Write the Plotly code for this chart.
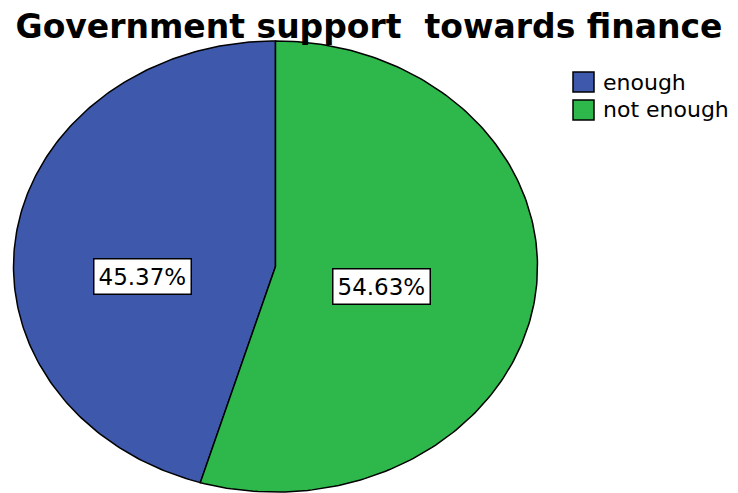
import numpy as np
import plotly.graph_objects as go

categories = ["enough", "not enough"]
values = [45.37, 54.63]
colors = ["#3E58AB", "#2EB84C"]
title_text = "Government support  towards finance"

W, H = 738, 493
cx_px, cy_px, rx_px, ry_px = 275.5, 267.0, 262.0, 226.0
# axis ranges so a unit circle maps onto the ellipse
xr = [-cx_px / rx_px, (W - cx_px) / rx_px]
yr = [-(H - cy_px) / ry_px - 0.004, cy_px / ry_px]

fig = go.Figure()
total = sum(values)
start = 90.0  # 12 o'clock; first slice counter-clockwise
b = start
for i, v in enumerate(values):
    sweep = v / total * 360.0
    th = np.linspace(b, b + sweep, 200)
    b += sweep
    t = np.radians(th)
    xs = np.concatenate([[0], np.cos(t), [0]])
    ys = np.concatenate([[0], np.sin(t), [0]])
    fig.add_trace(go.Scatter(x=xs, y=ys, mode="lines", fill="toself", name=categories[i],
                             fillcolor=colors[i], line=dict(color="black", width=1.5),
                             showlegend=False, hoverinfo="skip"))

# manual legend (square swatches + text), placed in paper pixels
leg_x, leg_y, sw, sh, row = 573, 72, 21, 20, 28
for k, (name, c) in enumerate(zip(categories, colors)):
    y0 = leg_y + k * row
    fig.add_shape(type="rect", xref="paper", yref="paper",
                  x0=leg_x / W, x1=(leg_x + sw) / W,
                  y0=1 - (y0 + sh) / H, y1=1 - y0 / H,
                  fillcolor=c, line=dict(color="black", width=1.5))
    fig.add_annotation(xref="paper", yref="paper", x=(leg_x + sw + 7) / W,
                       y=1 - (y0 + sh / 2) / H, xanchor="left", yanchor="middle",
                       text=name, showarrow=False,
                       font=dict(family="DejaVu Sans", size=22, color="black"))

label_pos = [(-0.506, -0.044), (0.403, -0.088)]
for (lx, ly), v in zip(label_pos, values):
    fig.add_annotation(x=lx, y=ly, text=f"{v:.2f}%", showarrow=False,
                       font=dict(family="DejaVu Sans", size=23, color="black"),
                       bgcolor="white", bordercolor="black", borderwidth=1.5, borderpad=4)

fig.update_layout(
    width=W, height=H,
    margin=dict(l=0, r=0, t=0, b=0),
    paper_bgcolor="white", plot_bgcolor="white",
    title=dict(text=f"<b>{title_text}</b>", x=0.5, xanchor="center", y=1 - 26 / H, yanchor="middle",
               font=dict(family="DejaVu Sans", size=33, color="black")),
    xaxis=dict(range=xr, visible=False, fixedrange=True),
    yaxis=dict(range=yr, visible=False, fixedrange=True),
    showlegend=False,
)

fig.write_html("out.html")
